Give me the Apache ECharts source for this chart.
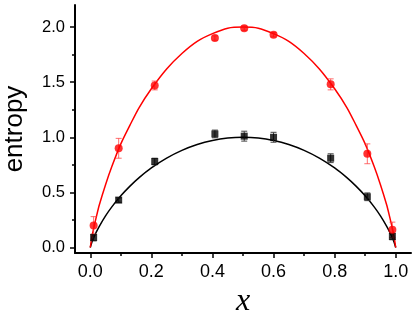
<!doctype html>
<html>
<head>
<meta charset="UTF-8">
<title>entropy</title>
<script src="https://cdn.jsdelivr.net/npm/echarts@6/dist/echarts.min.js"></script>
<style>
  html, body { margin: 0; padding: 0; background: #fff; }
  #chart { width: 415px; height: 310px; }
</style>
</head>
<body>
<div id="chart"></div>
<script>
// fitted curves
var fitX = [0, 0.005, 0.01, 0.02, 0.03, 0.05, 0.07, 0.1, 0.13, 0.16, 0.2, 0.25, 0.3, 0.35, 0.4, 0.45, 0.5,
            0.55, 0.6, 0.65, 0.7, 0.75, 0.8, 0.84, 0.87, 0.9, 0.93, 0.95, 0.97, 0.98, 0.99, 0.995, 1];
var blackFit = [0, 0.045, 0.081, 0.141, 0.194, 0.286, 0.366, 0.469, 0.557, 0.634, 0.722, 0.811, 0.881, 0.934, 0.971, 0.993, 1.0,
                0.993, 0.971, 0.934, 0.881, 0.811, 0.722, 0.634, 0.557, 0.469, 0.366, 0.286, 0.194, 0.141, 0.081, 0.045, 0];
var redFit = [0, 0.09, 0.16, 0.28, 0.39, 0.57, 0.73, 0.94, 1.11, 1.27, 1.44, 1.62, 1.76, 1.87, 1.94, 1.99, 2.0,
              1.99, 1.94, 1.87, 1.76, 1.62, 1.44, 1.27, 1.11, 0.94, 0.73, 0.57, 0.39, 0.28, 0.16, 0.09, 0];

// measured points
var pointX = [0.011, 0.093, 0.211, 0.408, 0.504, 0.600, 0.787, 0.907, 0.989];
var redY = [0.20, 0.90, 1.47, 1.90, 1.99, 1.93, 1.48, 0.85, 0.16];
var redErr = [0.08, 0.09, 0.04, 0.02, 0.02, 0.02, 0.05, 0.09, 0.07];
var blackY = [0.09, 0.43, 0.78, 1.03, 1.01, 1.00, 0.81, 0.46, 0.10];
var blackErr = [0.03, 0.02, 0.03, 0.035, 0.045, 0.045, 0.04, 0.035, 0.03];

var xMajor = [0, 0.2, 0.4, 0.6, 0.8, 1.0];
var xMinor = [0.1, 0.3, 0.5, 0.7, 0.9];
var yMajor = [0, 0.5, 1.0, 1.5, 2.0];
var yMinor = [0.25, 0.75, 1.25, 1.75];

function pairs(xs, ys) {
  return xs.map(function (x, i) { return [x, ys[i]]; });
}
function errData(ys, es) {
  return pointX.map(function (x, i) { return [x, ys[i] - es[i], ys[i] + es[i]]; });
}
function errRender(color) {
  return function (params, api) {
    var lo = api.coord([api.value(0), api.value(1)]);
    var hi = api.coord([api.value(0), api.value(2)]);
    var w = 3;
    var style = { stroke: color, lineWidth: 1 };
    return {
      type: 'group',
      children: [
        { type: 'line', shape: { x1: lo[0], y1: lo[1], x2: hi[0], y2: hi[1] }, style: style },
        { type: 'line', shape: { x1: lo[0] - w, y1: lo[1], x2: lo[0] + w, y2: lo[1] }, style: style },
        { type: 'line', shape: { x1: hi[0] - w, y1: hi[1], x2: hi[0] + w, y2: hi[1] }, style: style }
      ]
    };
  };
}

var chart = echarts.init(document.getElementById('chart'), null, { renderer: 'canvas' });
var tickLine = { color: '#000', width: 1.5 };
var fmt = function (v) { return v.toFixed(1); };

var option = {
  animation: false,
  backgroundColor: '#fff',
  grid: { left: 75, right: 4, top: 5, bottom: 57, containLabel: false, outerBoundsMode: 'none' },
  xAxis: [{
    type: 'value', min: -0.05, max: 1.05,
    axisLine: { show: true, onZero: false, lineStyle: { color: '#000', width: 2 } },
    axisTick: { show: true, inside: false, customValues: xMajor, length: 5, lineStyle: tickLine },
    axisLabel: { show: true, customValues: xMajor, margin: 10, formatter: fmt,
      fontFamily: 'Liberation Sans', fontSize: 18, color: '#000' },
    splitLine: { show: false },
    name: 'x', nameLocation: 'middle', nameGap: 29,
    nameTextStyle: { fontFamily: 'Liberation Serif', fontStyle: 'italic', fontSize: 32, color: '#000' }
  }, {
    type: 'value', min: -0.05, max: 1.05, position: 'bottom',
    axisLine: { show: false, onZero: false },
    axisTick: { show: true, inside: false, customValues: xMinor, length: 3, lineStyle: tickLine },
    axisLabel: { show: false },
    splitLine: { show: false }
  }],
  yAxis: [{
    type: 'value', min: -0.05, max: 2.2,
    axisLine: { show: true, onZero: false, lineStyle: { color: '#000', width: 2 } },
    axisTick: { show: true, inside: false, customValues: yMajor, length: 5, lineStyle: tickLine },
    axisLabel: { show: true, customValues: yMajor, margin: 10, formatter: fmt,
      fontFamily: 'Liberation Sans', fontSize: 16.5, color: '#000' },
    splitLine: { show: false },
    name: 'entropy', nameLocation: 'middle', nameGap: 47,
    nameTextStyle: { fontFamily: 'Liberation Sans', fontSize: 26, color: '#000' }
  }, {
    type: 'value', min: -0.05, max: 2.2, position: 'left',
    axisLine: { show: false, onZero: false },
    axisTick: { show: true, inside: false, customValues: yMinor, length: 3, lineStyle: tickLine },
    axisLabel: { show: false },
    splitLine: { show: false }
  }],
  series: [
    { type: 'line', data: pairs(fitX, blackFit), smooth: 0.3, showSymbol: false,
      lineStyle: { color: '#000', width: 1.5 }, z: 2 },
    { type: 'line', data: pairs(fitX, redFit), smooth: 0.3, showSymbol: false,
      lineStyle: { color: '#ff0000', width: 1.5 }, z: 2 },
    { type: 'custom', data: errData(blackY, blackErr), renderItem: errRender('#444'), z: 3 },
    { type: 'custom', data: errData(redY, redErr), renderItem: errRender('rgba(255,60,60,0.75)'), z: 3 },
    { type: 'scatter', data: pairs(pointX, blackY), symbol: 'rect', symbolSize: 7,
      itemStyle: { color: '#000' }, z: 4 },
    { type: 'scatter', data: pairs(pointX, redY), symbol: 'circle', symbolSize: 8,
      itemStyle: { color: '#ff0000' }, z: 4 }
  ]
};
chart.setOption(option);
</script>
</body>
</html>
